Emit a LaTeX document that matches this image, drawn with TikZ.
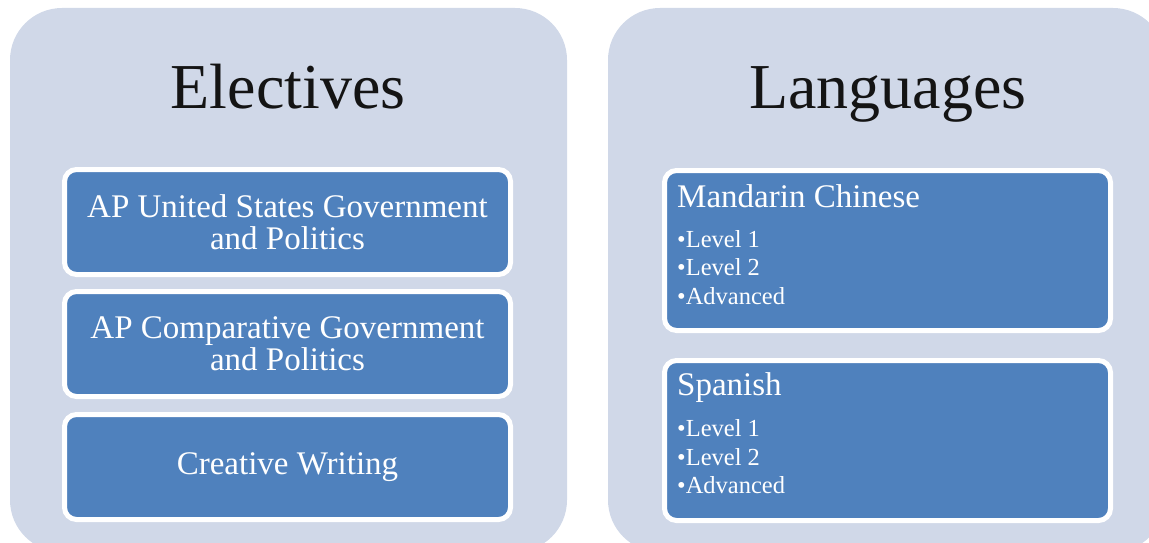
\documentclass[tikz,border=0pt]{standalone}
\usepackage{fontspec}
\setmainfont{Liberation Serif}
\definecolor{panelgray}{HTML}{D0D8E8}
\definecolor{itemblue}{HTML}{4F81BD}

\begin{document}
\begin{tikzpicture}
        [x=1pt,y=-1pt,
         panel/.style={rectangle,rounded corners=52pt,fill=panelgray,minimum width=557pt,minimum height=544pt,inner sep=0pt},
         itembox/.style={rectangle,rounded corners=12pt,draw=white,line width=5pt,fill=itemblue,minimum width=446pt,inner sep=0pt},
         heading/.style={font=\fontsize{64}{70}\selectfont,text=black!92,inner sep=0pt},
         boxtext/.style={font=\fontsize{33}{32}\selectfont,text=white,align=center},
         listhead/.style={font=\fontsize{33}{32}\selectfont,text=white,inner sep=0pt,anchor=base west},
         listitem/.style={font=\fontsize{24.5}{28}\selectfont,text=white,inner sep=0pt,anchor=base west}]
        \useasboundingbox (0,0) rectangle (1149,543);
        \clip (0,0) rectangle (1149,543);
        %Panels
        \node[panel] (Elec) at (288.5,280) {};
        \node[panel] (Lang) at (886.5,280) {};
        \node[heading,anchor=base] (ElecT) at (288,109) {Electives};
        \node[heading,anchor=base] (LangT) at (888,109) {Languages};

        %Left side
        \node[itembox,boxtext,minimum height=105pt] (USGov) at (287.5,222)  {AP United States Government\\and Politics};
        \node[itembox,boxtext,minimum height=105pt] (CompGov) at (287.5,344) {AP Comparative Government\\and Politics};
        \node[itembox,boxtext,minimum height=105pt] (Writing) at (287.5,467) {Creative Writing};

        %Right side
        \node[itembox,minimum height=160pt] (Mandarin) at (887.5,250.5) {};
        \node[itembox,minimum height=160pt] (Spanish) at (887.5,440.5)  {};

        \node[listhead] (MandT)  at (677,207) {Mandarin Chinese};
        \node[listitem] (MandL1) at (677,247) {\textbullet{}Level 1};
        \node[listitem] (MandL2) at (677,275) {\textbullet{}Level 2};
        \node[listitem] (MandA)  at (677,304) {\textbullet{}Advanced};

        \node[listhead] (SpanT)  at (677,395) {Spanish};
        \node[listitem] (SpanL1) at (677,436) {\textbullet{}Level 1};
        \node[listitem] (SpanL2) at (677,465) {\textbullet{}Level 2};
        \node[listitem] (SpanA)  at (677,493) {\textbullet{}Advanced};
    \end{tikzpicture}
\end{document}
